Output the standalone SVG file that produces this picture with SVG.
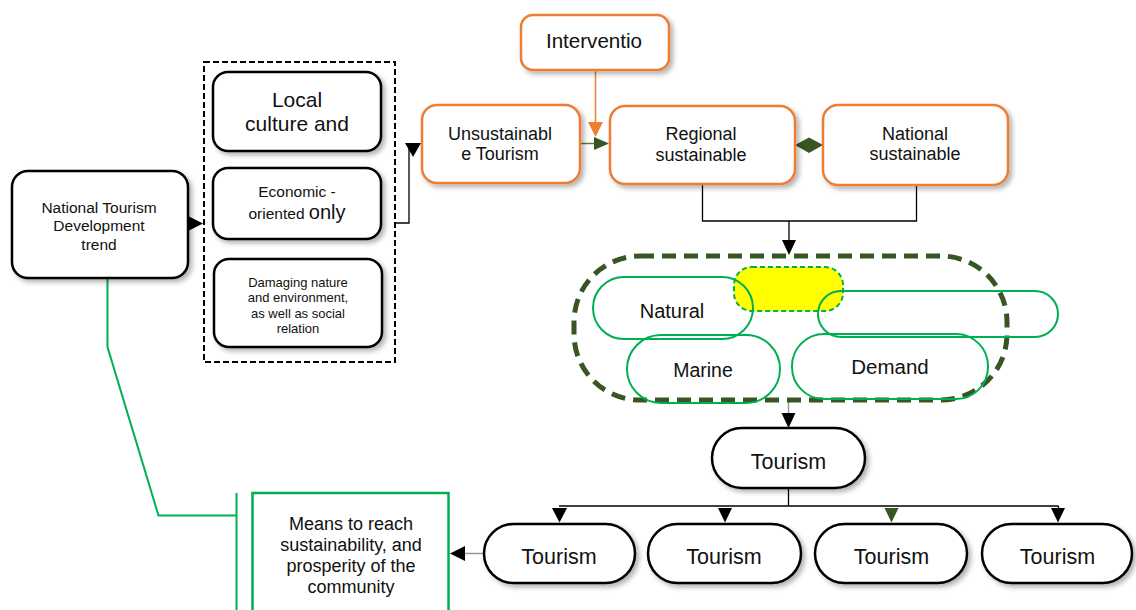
<svg xmlns="http://www.w3.org/2000/svg" width="1136" height="610" viewBox="0 0 1136 610">
<defs>
<filter id="sh" x="-10%" y="-10%" width="130%" height="140%">
<feDropShadow dx="3" dy="3" stdDeviation="2.5" flood-color="#000" flood-opacity="0.3"/>
</filter>
</defs>
<style>
text{font-family:"Liberation Sans",Arial,sans-serif;fill:#111;text-anchor:middle}
.bk{fill:#fff;stroke:#000;stroke-width:2.5;filter:url(#sh)}
.or{fill:#fff;stroke:#ED7D31;stroke-width:2.5;filter:url(#sh)}
.gp{fill:none;stroke:#00B050;stroke-width:2}
.ln{fill:none;stroke:#000;stroke-width:1.3}
.gl{fill:none;stroke:#999;stroke-width:1.5}
.ah{fill:#000;stroke:none}
.dg{fill:#375623;stroke:none}
.t{font-size:21.5px}
</style>
<rect width="1136" height="610" fill="#fff"/>

<g id="connectors">
  <line class="gl" x1="181" y1="223" x2="190" y2="223"/>
  <polygon class="ah" points="188,216 203,223.5 188,231"/>
  <polyline class="ln" points="395,223 409,223 409,145"/>
  <polygon class="ah" points="405,143 421,143 413,157"/>
  <line x1="595.5" y1="70" x2="595.5" y2="124" stroke="#ED7D31" stroke-width="1.5"/>
  <polygon fill="#ED7D31" points="588,122 603,122 595.5,137"/>
  <line x1="581" y1="143.5" x2="596" y2="143.5" stroke="#548235" stroke-width="1.5"/>
  <polygon class="dg" points="594,137 609,143.5 594,150"/>
  <polygon class="dg" points="795,145 809,137.5 823,145 809,153"/>
  <polyline class="ln" points="702.5,185 702.5,221 916.5,221 916.5,186"/>
  <line class="ln" x1="789" y1="221" x2="789" y2="242"/>
  <polygon class="ah" points="782,240 796,240 789,255"/>
  <line class="gl" x1="788.5" y1="400" x2="788.5" y2="415"/>
  <polygon class="ah" points="781.5,413 795.5,413 788.5,428"/>
  <polyline class="ln" points="788.5,489 788.5,506"/>
  <line class="ln" x1="559" y1="506" x2="1058.5" y2="506"/>
  <polygon class="ah" points="552,508 567,508 559.5,522.5"/>
  <polygon class="ah" points="718,508 732,508 725,522.5"/>
  <polygon class="dg" points="884.5,508 898.5,508 891.5,522.5"/>
  <polygon class="ah" points="1051,508 1065,508 1058,522.5"/>
  <line class="ln" x1="1058.5" y1="506" x2="1058.5" y2="509"/>
  <line class="gl" x1="484" y1="553.5" x2="463" y2="553.5"/>
  <polygon class="ah" points="465,546 465,561 450,553.5"/>
  <polyline fill="none" stroke="#00B050" stroke-width="2" points="107.5,278 107.5,347 158.5,515.5 236.5,515.5"/>
  <line x1="236.5" y1="493" x2="236.5" y2="610" stroke="#00B050" stroke-width="2"/>
</g>

<g id="national-trend">
  <rect class="bk" x="12" y="171" width="176" height="107" rx="16"/>
  <text font-size="15.5" x="99" y="213">National Tourism</text>
  <text font-size="15.5" x="99" y="231">Development</text>
  <text font-size="15.5" x="99" y="249.5">trend</text>
</g>

<g id="impacts-group">
  <rect x="204" y="62" width="191" height="300" fill="none" stroke="#000" stroke-width="2" stroke-dasharray="6,3"/>
</g>

<g id="local-culture">
  <rect class="bk" x="213" y="72" width="168" height="79" rx="15"/>
  <text font-size="21" x="297" y="107">Local</text>
  <text font-size="21" x="297" y="131">culture and</text>
</g>

<g id="economic">
  <rect class="bk" x="213" y="168" width="168" height="71" rx="15"/>
  <text font-size="15.5" x="297" y="197">Economic -</text>
  <text x="297" y="219"><tspan font-size="15.5">oriented </tspan><tspan font-size="20">only</tspan></text>
</g>

<g id="damaging">
  <rect class="bk" x="214" y="259" width="168" height="88" rx="15"/>
  <text font-size="13" x="298" y="287">Damaging nature</text>
  <text font-size="13" x="298" y="302">and environment,</text>
  <text font-size="13" x="298" y="318">as well as social</text>
  <text font-size="13" x="298" y="333">relation</text>
</g>

<g id="intervention">
  <rect class="or" x="521" y="15" width="148" height="55" rx="12"/>
  <text font-size="20.6" x="594" y="48">Interventio</text>
</g>

<g id="unsustainable">
  <rect class="or" x="422" y="105" width="158" height="78" rx="15"/>
  <text font-size="18" x="500" y="140">Unsustainabl</text>
  <text font-size="18" x="500" y="160">e Tourism</text>
</g>

<g id="regional">
  <rect class="or" x="610" y="106" width="185" height="78" rx="15"/>
  <text font-size="18" x="701" y="140">Regional</text>
  <text font-size="18" x="701" y="161">sustainable</text>
</g>

<g id="national-sustainable">
  <rect class="or" x="823" y="105" width="185" height="80" rx="15"/>
  <text font-size="18" x="915" y="140">National</text>
  <text font-size="18" x="915" y="160">sustainable</text>
</g>

<g id="cluster">
  <rect x="574" y="256" width="433" height="144" rx="66" fill="none" stroke="#375623" stroke-width="5" stroke-dasharray="14,8"/>
  <rect x="734" y="267" width="109" height="44" rx="18" fill="#FFFF00" stroke="#00B050" stroke-width="2" stroke-dasharray="5,3"/>
</g>

<g id="natural">
  <rect class="gp" x="593" y="277" width="160" height="62" rx="31"/>
  <text font-size="20" x="672" y="318">Natural</text>
</g>

<g id="empty-pill">
  <rect class="gp" x="818" y="291" width="240" height="46" rx="23"/>
</g>

<g id="marine">
  <rect class="gp" x="627" y="335" width="153" height="68" rx="34"/>
  <text font-size="19.5" x="703" y="377">Marine</text>
</g>

<g id="demand">
  <rect class="gp" x="792" y="334" width="196" height="65" rx="32"/>
  <text font-size="20.5" x="890" y="374">Demand</text>
</g>

<g id="tourism-main">
  <rect class="bk" x="712" y="428" width="153" height="60" rx="30"/>
  <text class="t" x="788.5" y="468.5">Tourism</text>
</g>

<g id="tourism-1">
  <rect class="bk" x="484" y="524" width="151" height="59" rx="29.5"/>
  <text class="t" x="559" y="564">Tourism</text>
</g>
<g id="tourism-2">
  <rect class="bk" x="648" y="524" width="153" height="59" rx="29.5"/>
  <text class="t" x="724" y="564">Tourism</text>
</g>
<g id="tourism-3">
  <rect class="bk" x="815" y="524" width="152" height="59" rx="29.5"/>
  <text class="t" x="891.5" y="564">Tourism</text>
</g>
<g id="tourism-4">
  <rect class="bk" x="982" y="524" width="150" height="59" rx="29.5"/>
  <text class="t" x="1057.5" y="564">Tourism</text>
</g>

<g id="means">
  <rect x="252.5" y="493" width="196" height="140" fill="#fff" stroke="#00B050" stroke-width="2.5"/>
  <text font-size="18" x="351" y="529.5">Means to reach</text>
  <text font-size="18" x="351" y="550.5">sustainability, and</text>
  <text font-size="18" x="351" y="572">prosperity of the</text>
  <text font-size="18" x="351" y="593">community</text>
</g>
</svg>
